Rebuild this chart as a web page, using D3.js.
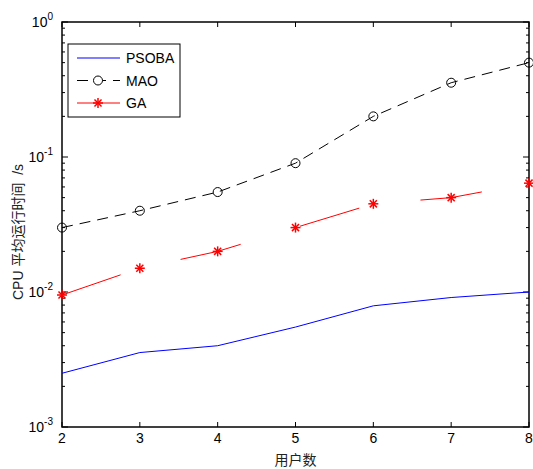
<!DOCTYPE html>
<html>
<head>
<meta charset="utf-8">
<script src="https://d3js.org/d3.v7.min.js"></script>
<style>
  body { margin: 0; background: #fff; }
  text { font-family: Arial, "Liberation Sans", sans-serif; }
</style>
</head>
<body>
<div id="vis"></div>
<script>
// data
let users = [2, 3, 4, 5, 6, 7, 8];
let psoba = [0.0025, 0.00356, 0.0040, 0.0055, 0.0079, 0.0091, 0.0100];
let mao = [0.030, 0.040, 0.055, 0.090, 0.200, 0.355, 0.500];
let ga = [0.0095, 0.015, 0.020, 0.030, 0.045, 0.050, 0.064];
let yExps = [0, -1, -2, -3];

let margin = { top: 22, left: 62, right: 4, bottom: 42 },
  width = 533 - margin.left - margin.right,
  height = 469 - margin.top - margin.bottom;

let svg = d3.select('#vis')
  .append('svg')
  .attr('width', 533)
  .attr('height', 469);

let g = svg.append('g')
  .attr('transform', 'translate(' + margin.left + ',' + margin.top + ')');

let x = d3.scaleLinear().domain([2, 8]).range([0, width]);
let y = d3.scaleLog().domain([1e-3, 1]).range([height, 0]);

// minor ticks for log axis
let minor = [];
for (let e = -3; e < 0; e++) {
  for (let m = 2; m <= 9; m++) minor.push(m * Math.pow(10, e));
}

// box
g.append('rect')
  .attr('width', width)
  .attr('height', height)
  .attr('fill', 'none')
  .attr('stroke', '#000')
  .attr('stroke-width', 1.5);

// x ticks (inside, bottom and top)
users.forEach(function(u){
  g.append('line').attr('x1', x(u)).attr('x2', x(u)).attr('y1', height).attr('y2', height - 5).attr('stroke', '#000');
  g.append('line').attr('x1', x(u)).attr('x2', x(u)).attr('y1', 0).attr('y2', 5).attr('stroke', '#000');
  g.append('text')
    .attr('x', x(u))
    .attr('y', height + 16)
    .attr('text-anchor', 'middle')
    .attr('font-size', 14)
    .text(u);
});

// y ticks
yExps.forEach(function(e){
  let v = Math.pow(10, e);
  g.append('line').attr('x1', 0).attr('x2', 6).attr('y1', y(v)).attr('y2', y(v)).attr('stroke', '#000');
  g.append('line').attr('x1', width).attr('x2', width - 6).attr('y1', y(v)).attr('y2', y(v)).attr('stroke', '#000');
  let t = g.append('text')
    .attr('x', -9)
    .attr('y', y(v) + 5)
    .attr('text-anchor', 'end')
    .attr('font-size', 14);
  t.append('tspan').text('10');
  t.append('tspan').attr('font-size', 10).attr('dy', -7).text(e);
});
minor.forEach(function(v){
  g.append('line').attr('x1', 0).attr('x2', 3).attr('y1', y(v)).attr('y2', y(v)).attr('stroke', '#000');
  g.append('line').attr('x1', width).attr('x2', width - 3).attr('y1', y(v)).attr('y2', y(v)).attr('stroke', '#000');
});

let line = d3.line()
  .x(function(d, i){ return x(users[i]); })
  .y(function(d){ return y(d); });

// PSOBA
g.append('path')
  .datum(psoba)
  .attr('d', line)
  .attr('fill', 'none')
  .attr('stroke', '#0000ff')
  .attr('stroke-width', 1);

// MAO
g.append('path')
  .datum(mao)
  .attr('d', line)
  .attr('fill', 'none')
  .attr('stroke', '#000')
  .attr('stroke-dasharray', '11,7')
  .attr('stroke-width', 1);
g.selectAll('.mao')
  .data(mao)
  .enter().append('circle')
  .attr('cx', function(d, i){ return x(users[i]); })
  .attr('cy', function(d){ return y(d); })
  .attr('r', 4.5)
  .attr('fill', 'none')
  .attr('stroke', '#000');

// GA
g.append('path')
  .datum(ga)
  .attr('d', line)
  .attr('fill', 'none')
  .attr('stroke', '#ff0000')
  .attr('stroke-dasharray', '62,62')
  .attr('stroke-width', 1);

function star(sel, cx, cy, r, color){
  let p = sel.append('g').attr('transform', 'translate(' + cx + ',' + cy + ')');
  [0, 45, 90, 135].forEach(function(a){
    let rad = a * Math.PI / 180;
    p.append('line')
      .attr('x1', -r * Math.cos(rad)).attr('y1', -r * Math.sin(rad))
      .attr('x2', r * Math.cos(rad)).attr('y2', r * Math.sin(rad))
      .attr('stroke', color).attr('stroke-width', 1.5);
  });
}
ga.forEach(function(d, i){ star(g, x(users[i]), y(d), 5, '#ff0000'); });

// legend
let lg = svg.append('g').attr('transform', 'translate(68,44)');
lg.append('rect').attr('width', 112).attr('height', 73).attr('fill', '#fff').attr('stroke', '#000');
let names = ['PSOBA', 'MAO', 'GA'];
names.forEach(function(n, i){
  let ly = 14 + i * 22.5;
  let ln = lg.append('line').attr('x1', 9).attr('x2', 52).attr('y1', ly).attr('y2', ly);
  if (i == 0) ln.attr('stroke', '#0000ff');
  if (i == 1) {
    ln.attr('stroke', '#000').attr('stroke-dasharray', '11,7');
    lg.append('circle').attr('cx', 30).attr('cy', ly).attr('r', 4.5).attr('fill', '#fff').attr('stroke', '#000');
  }
  if (i == 2) {
    ln.attr('stroke', '#ff0000');
    star(lg, 30, ly, 5, '#ff0000');
  }
  lg.append('text').attr('x', 58).attr('y', ly + 5).attr('font-size', 14).text(n);
});

// axis labels
svg.append('text')
  .attr('x', margin.left + width / 2)
  .attr('y', 465)
  .attr('text-anchor', 'middle')
  .attr('font-size', 14)
  .attr('fill', '#222')
  .style('font-family', '"Noto Sans CJK SC", sans-serif')
  .text('用户数');

svg.append('text')
  .attr('transform', 'translate(23,232) rotate(-90)')
  .attr('text-anchor', 'middle')
  .attr('font-size', 14)
  .attr('fill', '#222')
  .style('font-family', 'Arial, "Noto Sans CJK SC", sans-serif')
  .attr('xml:space', 'preserve')
  .text('CPU 平均运行时间  /s');
</script>
</body>
</html>
